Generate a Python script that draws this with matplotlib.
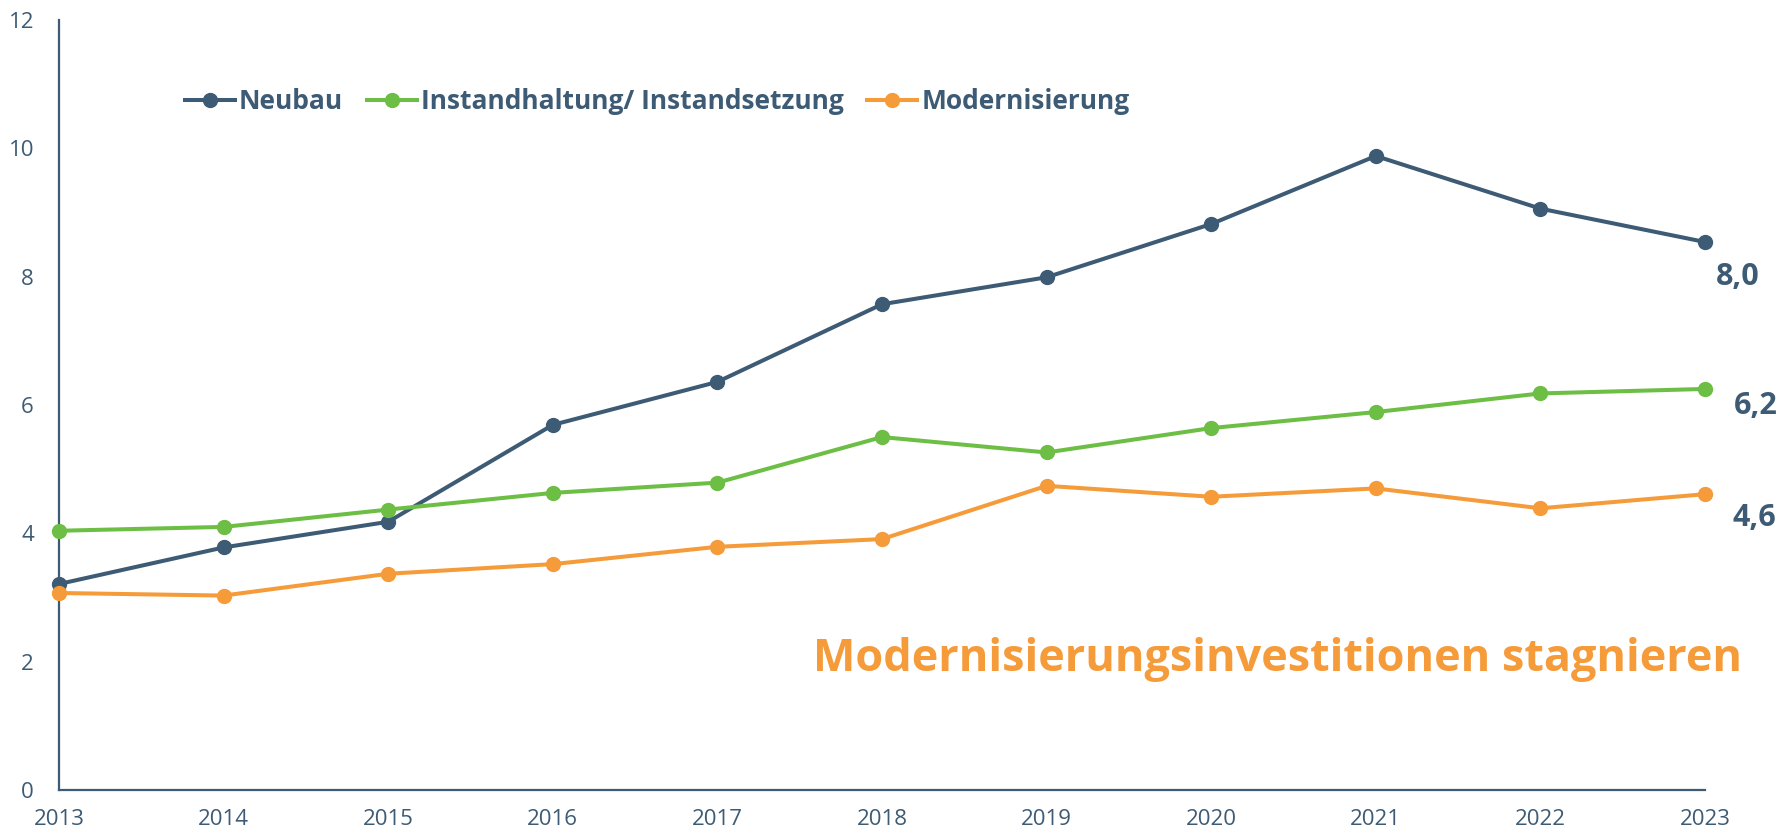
import matplotlib.pyplot as plt

plt.rcParams['font.family'] = ['Open Sans', 'DejaVu Sans']

# data
years = [2013, 2014, 2015, 2016, 2017, 2018, 2019, 2020, 2021, 2022, 2023]
neubau = [3.21, 3.78, 4.18, 5.69, 6.36, 7.57, 7.99, 8.82, 9.88, 9.06, 8.54]
instand = [4.04, 4.10, 4.37, 4.63, 4.79, 5.50, 5.26, 5.64, 5.89, 6.18, 6.25]
modern = [3.07, 3.03, 3.37, 3.52, 3.79, 3.91, 4.74, 4.57, 4.70, 4.39, 4.61]
end_labels = ['8,0', '6,2', '4,6']
series_names = ['Neubau', 'Instandhaltung/ Instandsetzung', 'Modernisierung']
headline = 'Modernisierungsinvestitionen stagnieren'

slate = '#3D5B74'
green = '#6DBE45'
orange = '#F59B3A'

fig = plt.figure(figsize=(17.82, 8.39), dpi=100)
ax = fig.add_axes([0.0331, 0.0584, 0.9237, 0.9178])

for vals, col, name in zip([neubau, instand, modern], [slate, green, orange], series_names):
    ax.plot(years, vals, color=col, lw=2.9, marker='o', markersize=10,
            label=name, clip_on=False, zorder=3)

ax.set_xlim(2013, 2023)
ax.set_ylim(0, 12)
ax.set_xticks(years)
ax.set_yticks(range(0, 13, 2))
ax.tick_params(length=0, labelsize=16, colors=slate)
ax.tick_params(axis='y', pad=18)
ax.tick_params(axis='x', pad=14)
for s in ['top', 'right']:
    ax.spines[s].set_visible(False)
for s in ['left', 'bottom']:
    ax.spines[s].set_color(slate)
    ax.spines[s].set_linewidth(1.6)

# end value labels
ax.annotate(end_labels[0], (years[-1], neubau[-1]), xytext=(8, -25),
            textcoords='offset points', fontsize=22, fontweight='bold',
            color=slate, ha='left', va='center', annotation_clip=False)
ax.annotate(end_labels[1], (years[-1], instand[-1]), xytext=(21, -12),
            textcoords='offset points', fontsize=22, fontweight='bold',
            color=slate, ha='left', va='center', annotation_clip=False)
ax.annotate(end_labels[2], (years[-1], modern[-1]), xytext=(20, -17),
            textcoords='offset points', fontsize=22, fontweight='bold',
            color=slate, ha='left', va='center', annotation_clip=False)

ax.text(1.0225, 0.170, headline, transform=ax.transAxes, fontsize=32.4,
        fontweight='bold', color=orange, ha='right', va='center')

leg = ax.legend(loc='upper left', bbox_to_anchor=(0.07, 0.925), ncol=3,
                frameon=False, fontsize=19, handlelength=1.9, handletextpad=0.15,
                columnspacing=0.9, borderaxespad=0)
for t in leg.get_texts():
    t.set_color(slate)
    t.set_fontweight('bold')

fig.savefig('out.png', dpi=100)
